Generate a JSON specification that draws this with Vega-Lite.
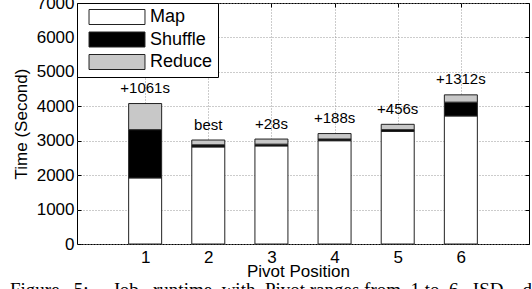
{
  "$schema": "https://vega.github.io/schema/vega-lite/v6.json",
  "width": 452,
  "height": 241,
  "autosize": "none",
  "padding": {"left": 77, "top": 3, "right": 3, "bottom": 45},
  "background": "white",
  "config": {
    "font": "Liberation Sans",
    "view": {"stroke": "black", "strokeWidth": 1},
    "axis": {
      "domain": false,
      "gridColor": "#999999",
      "gridDash": [1, 2],
      "gridWidth": 1,
      "tickColor": "black",
      "labelColor": "black",
      "titleColor": "black",
      "labelFont": "Liberation Sans",
      "titleFont": "Liberation Sans",
      "labelFontSize": 17,
      "titleFontSize": 17,
      "titleFontWeight": "normal"
    },
    "legend": {
      "orient": "top-left",
      "offset": 0,
      "padding": 5,
      "strokeColor": "black",
      "strokeWidth": 1,
      "fillColor": "white",
      "symbolType": "M-3.73,-1H3.73V1H-3.73Z",
      "symbolSize": 225,
      "symbolOffset": 26,
      "labelOffset": 24,
      "labelFontSize": 18,
      "labelFont": "Liberation Sans",
      "labelColor": "black",
      "rowPadding": 2.5,
      "symbolStrokeColor": "#222",
      "symbolStrokeWidth": 1
    }
  },
  "datasets": {
    "segments": [
      {"pivot": 1, "phase": "Map", "k": 1, "time": 1920},
      {"pivot": 1, "phase": "Shuffle", "k": 2, "time": 1400},
      {"pivot": 1, "phase": "Reduce", "k": 3, "time": 760},
      {"pivot": 2, "phase": "Map", "k": 1, "time": 2820},
      {"pivot": 2, "phase": "Shuffle", "k": 2, "time": 60},
      {"pivot": 2, "phase": "Reduce", "k": 3, "time": 140},
      {"pivot": 3, "phase": "Map", "k": 1, "time": 2850},
      {"pivot": 3, "phase": "Shuffle", "k": 2, "time": 50},
      {"pivot": 3, "phase": "Reduce", "k": 3, "time": 148},
      {"pivot": 4, "phase": "Map", "k": 1, "time": 3000},
      {"pivot": 4, "phase": "Shuffle", "k": 2, "time": 50},
      {"pivot": 4, "phase": "Reduce", "k": 3, "time": 158},
      {"pivot": 5, "phase": "Map", "k": 1, "time": 3270},
      {"pivot": 5, "phase": "Shuffle", "k": 2, "time": 50},
      {"pivot": 5, "phase": "Reduce", "k": 3, "time": 156},
      {"pivot": 6, "phase": "Map", "k": 1, "time": 3720},
      {"pivot": 6, "phase": "Shuffle", "k": 2, "time": 400},
      {"pivot": 6, "phase": "Reduce", "k": 3, "time": 212}
    ],
    "labels": [
      {"pivot": 1, "total": 4080, "label": "+1061s"},
      {"pivot": 2, "total": 3020, "label": "best"},
      {"pivot": 3, "total": 3048, "label": "+28s"},
      {"pivot": 4, "total": 3208, "label": "+188s"},
      {"pivot": 5, "total": 3476, "label": "+456s"},
      {"pivot": 6, "total": 4332, "label": "+1312s"}
    ]
  },
  "title": {
    "text": "Figure\u00a0\u00a0\u00a05:\u00a0\u00a0\u00a0\u00a0\u00a0Job\u00a0\u00a0\u00a0runtime\u00a0\u00a0with\u00a0\u00a0Pivot\u00a0ranges\u00a0from\u00a0\u00a01\u00a0to\u00a0\u00a06.\u00a0\u00a0ISD\u00a0\u00a0\u00a0\u00a0data",
    "orient": "bottom",
    "anchor": "start",
    "frame": "group",
    "dx": -67,
    "offset": 2,
    "font": "Liberation Serif",
    "fontSize": 19,
    "fontWeight": "normal",
    "color": "black"
  },
  "layer": [
    {
      "data": {"name": "segments"},
      "mark": {"type": "bar", "width": 33, "stroke": "#222", "strokeWidth": 1},
      "encoding": {
        "x": {
          "field": "pivot",
          "type": "quantitative",
          "scale": {"domain": [0, 7], "nice": false, "zero": false},
          "axis": {
            "orient": "bottom",
            "values": [1, 2, 3, 4, 5, 6],
            "format": "d",
            "title": "Pivot Position",
            "tickSize": -4,
            "labelPadding": 9,
            "titlePadding": -2,
            "titleX": 221,
            "grid": true
          }
        },
        "y": {
          "field": "time",
          "type": "quantitative",
          "stack": "zero",
          "scale": {"domain": [0, 7000], "nice": false},
          "axis": {
            "orient": "left",
            "values": [0, 1000, 2000, 3000, 4000, 5000, 6000, 7000],
            "format": "d",
            "title": "Time (Second)",
            "tickSize": -4,
            "labelPadding": 7,
            "titlePadding": 5.6,
            "grid": true
          }
        },
        "color": {
          "field": "phase",
          "type": "nominal",
          "scale": {"domain": ["Map", "Shuffle", "Reduce"], "range": ["#ffffff", "#000000", "#c8c8c8"]},
          "legend": {"title": null, "labelExpr": "datum.label + '  '"}
        },
        "order": {"field": "k", "type": "quantitative"}
      }
    },
    {
      "data": {"name": "labels"},
      "mark": {"type": "text", "dy": -10.5, "baseline": "alphabetic", "align": "center", "fontSize": 15, "color": "black"},
      "encoding": {
        "x": {
          "field": "pivot",
          "type": "quantitative",
          "scale": {"domain": [0, 7], "nice": false, "zero": false},
          "axis": {"orient": "top", "values": [1, 2, 3, 4, 5, 6], "labels": false, "tickSize": -4, "title": null, "grid": false}
        },
        "y": {
          "field": "total",
          "type": "quantitative",
          "scale": {"domain": [0, 7000], "nice": false},
          "axis": {"orient": "right", "values": [0, 1000, 2000, 3000, 4000, 5000, 6000, 7000], "labels": false, "tickSize": -4, "title": null, "grid": false}
        },
        "text": {"field": "label"}
      }
    }
  ],
  "resolve": {"axis": {"x": "independent", "y": "independent"}}
}
